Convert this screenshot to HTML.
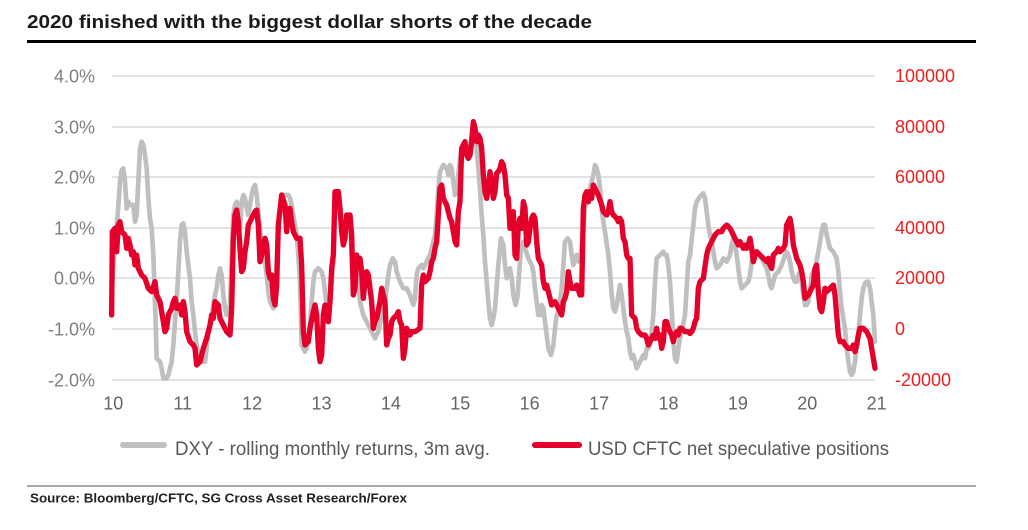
<!DOCTYPE html>
<html><head><meta charset="utf-8"><style>
html,body{margin:0;padding:0;background:#fff;}
svg{display:block;font-family:"Liberation Sans",Arial,sans-serif;}
</style></head><body>
<svg width="1028" height="530" viewBox="0 0 1028 530" xmlns="http://www.w3.org/2000/svg">
<rect width="1028" height="530" fill="#fff"/>
<text x="27" y="28" font-size="18" font-weight="bold" fill="#1a1a1a" textLength="565" lengthAdjust="spacingAndGlyphs">2020 finished with the biggest dollar shorts of the decade</text>
<line x1="27" y1="41.5" x2="976" y2="41.5" stroke="#000" stroke-width="3"/>

<g stroke="#d9d9d9" stroke-width="1.5">
<line x1="112" y1="76" x2="875" y2="76"/>
<line x1="112" y1="127" x2="875" y2="127"/>
<line x1="112" y1="177" x2="875" y2="177"/>
<line x1="112" y1="228" x2="875" y2="228"/>
<line x1="112" y1="278" x2="875" y2="278"/>
<line x1="112" y1="329" x2="875" y2="329"/>
<line x1="112" y1="380" x2="875" y2="380"/>
</g>

<g font-size="18" fill="#7f7f7f" text-anchor="end">
<text x="95" y="82.5">4.0%</text>
<text x="95" y="133.5">3.0%</text>
<text x="95" y="183.5">2.0%</text>
<text x="95" y="234.5">1.0%</text>
<text x="95" y="284.5">0.0%</text>
<text x="95" y="335.5">-1.0%</text>
<text x="95" y="386.5">-2.0%</text>
</g>
<g font-size="18" fill="#f01e1e">
<text x="895" y="82">100000</text>
<text x="895" y="133">80000</text>
<text x="895" y="183">60000</text>
<text x="895" y="234">40000</text>
<text x="895" y="284">20000</text>
<text x="895" y="335">0</text>
<text x="895" y="386">-20000</text>
</g>
<g font-size="18" fill="#666" text-anchor="middle">
<text x="113.3" y="409.5">10</text>
<text x="182.7" y="409.5">11</text>
<text x="252.1" y="409.5">12</text>
<text x="321.5" y="409.5">13</text>
<text x="390.9" y="409.5">14</text>
<text x="460.3" y="409.5">15</text>
<text x="529.7" y="409.5">16</text>
<text x="599.1" y="409.5">17</text>
<text x="668.5" y="409.5">18</text>
<text x="737.9" y="409.5">19</text>
<text x="807.3" y="409.5">20</text>
<text x="876.7" y="409.5">21</text>
</g>

<!-- gray series -->
<g fill="none" stroke="#bfbfbf" stroke-width="14" stroke-linejoin="round" stroke-linecap="round">
<polyline transform="translate(105,115) scale(0.333333)" points="18,600 22,500 30,380 38,300 45,200 50,165 55,160 60,200 65,280 70,260 75,270 85,270 90,320 95,300 100,200 105,100 110,80 115,90 120,120 125,160 130,250 135,310 140,340 145,420 150,560 155,730 165,740 170,760 175,790 185,790 190,780 200,740 205,690 210,620 215,560 220,470 225,380 230,330 235,325 240,350 245,410 250,450 255,490 260,560 265,600 270,650 275,690 280,720 290,740 300,740 305,700 310,650 315,630 320,600 325,570 330,540 335,520 340,480 345,460 350,480 355,540 360,580 365,600 375,570 380,430 385,300 390,270 395,260 400,300 405,340 410,260 415,240 420,250 425,280 430,300 440,240 445,220 450,210 455,240 460,290 465,340 470,400 475,420 480,440 485,480 490,530 495,560 500,570 505,580 510,560 515,450 520,330 525,270 530,250 540,240 550,240 555,250 560,270 565,300 570,330 575,360 580,420 585,500"/>
<polyline transform="translate(300,115) scale(0.333333)" points="0,500 5,690 15,710 20,700 30,630 35,560 40,500 45,470 55,460 65,470 70,490 75,530 80,570 85,600 90,560 100,440 105,260 112,240 120,300 130,380 140,310 150,320 160,520 170,440 180,560 190,600 200,620 210,640 220,660 225,670 235,650 245,600 255,560 265,480 270,450 278,430 285,440 290,470 300,500 310,520 320,520 325,530 330,540 340,570 345,550 350,480 355,460 365,450 370,460 380,440 390,420 395,400 400,380 405,360 410,300 415,220 420,170 430,150 440,160 445,180 450,150 455,160 460,200 465,240 470,230 475,180 480,130 485,100 495,90 505,110 510,100 515,60 520,30 525,60 530,100 535,160 540,220 545,300 550,360 555,440 560,500 565,560 570,610 575,630 580,610 585,580"/>
<polyline transform="translate(495,115) scale(0.333333)" points="0,580 10,450 18,370 25,390 30,450 35,490 40,480 45,460 50,490 55,540 62,570 68,540 72,480 78,400 85,380 90,400 100,430 110,450 115,470 120,520 125,560 130,600 135,600 140,570 145,580 150,620 155,660 160,700 168,720 175,690 180,640 185,600 190,590 195,560 200,520 205,450 210,380 218,370 225,380 230,420 235,450 240,430 245,420 250,440 255,430 260,400 265,350 270,280 280,240 290,200 295,180 300,150 305,160 310,180 315,220 320,280 325,320 330,350 340,420 345,470 350,540 355,580 360,590 365,570 370,540 375,510 380,540 385,580 390,620 395,650 400,670 405,710 410,730 415,720 420,740 425,760 430,750 435,740 440,730 445,720 450,730 455,700 460,700 465,690 470,650 475,600 480,500 485,430 495,420 505,410 510,420 515,420 520,450 525,500 530,580 535,680 540,730 545,740 550,700 555,670 560,650 570,600 575,520 580,440 585,420"/>
<polyline transform="translate(690,115) scale(0.333333)" points="0,420 10,330 15,280 20,260 30,245 40,235 45,250 50,290 55,330 60,360 65,380 70,410 75,440 80,460 90,450 100,430 110,440 120,420 125,390 130,370 135,390 140,420 145,460 150,500 155,520 165,510 175,500 180,480 185,440 195,410 200,410 210,420 220,440 230,460 235,480 240,510 245,520 250,500 255,480 265,470 275,450 285,420 290,410 295,420 300,440 305,470 310,490 315,500 320,500 325,480 330,470 335,500 340,540 345,570 350,570 355,560 360,530 365,480 375,460 385,410 395,350 400,330 405,330 410,360 415,380 420,400 430,410 435,420 440,430 445,470 450,530 455,580 460,610 465,640 470,700 475,740 480,770 485,780 490,770 495,740 500,700 505,660 510,600 515,550 520,520 525,505 530,500 535,500 540,520 545,560 550,600 555,680"/>
</g>

<!-- red series -->
<g fill="none" stroke="#e4002b" stroke-width="16" stroke-linejoin="round" stroke-linecap="round">
<polyline transform="translate(105,115) scale(0.333333)" points="20,600 22,350 30,340 35,410 40,330 45,320 50,350 60,360 65,400 70,370 75,390 80,420 85,410 90,450 95,420 100,460 110,480 120,490 130,520 140,530 150,500 155,540 165,560 175,620 180,650 185,640 190,600 200,580 205,560 210,550 215,580 225,570 230,600 235,560 240,590 245,650 255,680 265,690 270,700 275,750 285,740 295,700 305,670 315,630 320,600 325,610 330,560 340,570 345,610 355,630 365,650 375,660 380,580 385,370 390,300 395,285 400,320 405,400 410,470 415,460 420,410 425,380 430,330 440,310 450,290 455,285 460,330 465,440 470,420 475,390 480,370 485,390 490,470 495,490 500,480 505,550 510,570 515,510 520,330 530,240 540,270 545,350 550,290 555,280 560,320 565,350 575,370 585,370"/>
<polyline transform="translate(300,115) scale(0.333333)" points="0,370 5,450 10,650 15,690 25,680 30,640 40,590 45,570 50,600 55,700 60,740 65,720 70,600 75,570 80,600 85,620 90,560 95,460 100,420 105,230 115,230 120,280 125,350 130,390 135,370 140,300 150,300 155,360 160,540 165,520 170,420 175,440 180,430 185,470 190,550 195,500 200,470 205,480 210,520 215,560 220,640 225,620 230,610 240,560 245,520 250,540 255,560 260,690 265,670 270,660 275,620 280,610 290,600 295,590 300,620 305,630 310,730 315,700 320,640 330,660 335,650 345,650 360,640 365,510 370,480 375,500 385,490 390,470 395,440 400,430 405,400 410,380 415,300 420,220 425,210 430,250 435,260 440,270 445,290 450,310 455,320 460,350 465,380 470,390 475,290 480,260 485,100 490,90 495,80 500,120 505,130 510,120 515,80 520,20 525,40 530,80 535,60 540,70 545,100 550,180 555,230 560,250 565,220 570,170 575,200 580,250 585,230"/>
<polyline transform="translate(495,115) scale(0.333333)" points="0,230 5,175 10,170 15,160 20,140 25,150 30,180 35,240 40,250 45,340 50,300 55,290 60,420 65,430 70,330 75,310 80,340 85,260 90,280 95,390 100,380 105,340 110,310 115,300 120,310 125,380 130,430 140,450 145,500 150,520 155,510 165,550 170,570 180,560 185,570 190,580 200,600 205,560 210,550 215,530 220,470 225,500 230,520 240,520 245,510 255,540 260,540 265,280 270,240 275,230 280,260 285,230 290,250 295,210 300,220 305,230 310,240 320,270 325,290 335,300 340,290 345,260 350,290 355,300 365,310 370,320 375,310 380,320 385,370 390,380 395,420 400,430 405,430 410,600 420,610 425,640 430,650 440,660 450,660 455,670 460,690 465,680 475,660 480,670 485,640 490,670 495,660 500,700 505,680 510,620 515,620 520,640 525,650 530,660 535,680 540,660 545,650 550,660 555,640 560,640 570,650 580,650 585,655"/>
<polyline transform="translate(690,115) scale(0.333333)" points="0,655 5,650 10,640 15,620 20,610 25,520 30,500 40,490 50,420 55,400 65,380 75,360 85,350 95,350 100,340 110,330 120,340 130,360 140,380 145,390 150,380 155,390 160,400 165,390 170,400 175,390 180,370 185,400 190,440 195,420 200,410 210,420 220,430 230,440 235,430 240,450 245,460 250,420 260,410 265,400 270,410 280,400 285,390 290,330 295,320 300,310 305,340 310,390 315,410 320,430 330,450 335,470 340,500 345,550 355,540 360,530 370,510 375,460 380,450 385,530 390,580 395,590 400,560 405,520 410,530 420,520 430,510 435,540 440,600 445,660 450,680 460,680 465,690 475,700 485,700 490,690 495,710 500,690 505,660 510,640 520,640 530,650 540,670 545,700 550,730 555,760"/>
</g>

<!-- legend -->
<line x1="123" y1="445" x2="164" y2="445" stroke="#bfbfbf" stroke-width="6" stroke-linecap="round"/>
<text x="175" y="455" font-size="19" fill="#595959" textLength="315" lengthAdjust="spacingAndGlyphs">DXY - rolling monthly returns, 3m avg.</text>
<line x1="535" y1="445" x2="579" y2="445" stroke="#e4002b" stroke-width="6" stroke-linecap="round"/>
<text x="588" y="455" font-size="19" fill="#595959" textLength="301" lengthAdjust="spacingAndGlyphs">USD CFTC net speculative positions</text>

<line x1="27" y1="486" x2="976" y2="486" stroke="#8c8c8c" stroke-width="1.5"/>
<text x="30" y="502.5" font-size="13" font-weight="bold" fill="#222" textLength="377" lengthAdjust="spacingAndGlyphs">Source: Bloomberg/CFTC, SG Cross Asset Research/Forex</text>
</svg>
</body></html>
